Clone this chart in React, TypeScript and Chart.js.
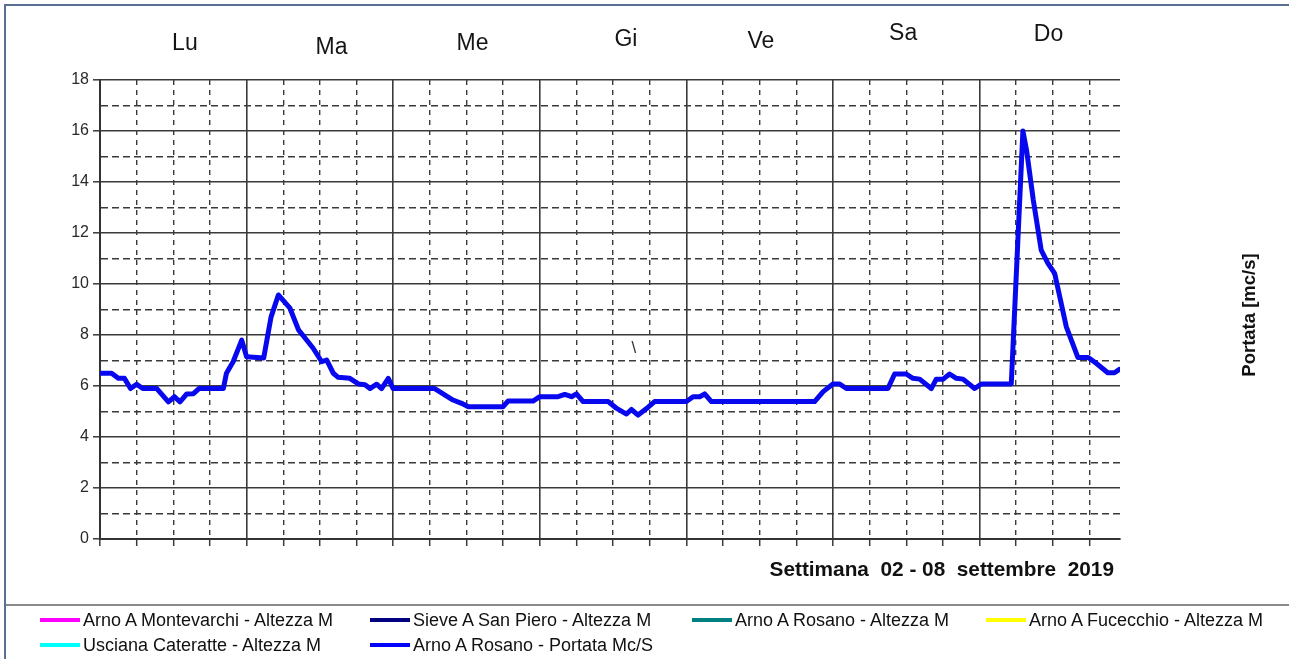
import React, { useEffect, useRef } from 'react';
import { Chart, registerables } from 'chart.js';

Chart.register(...registerables);

// ---- data (hours from Monday 00:00, flow in mc/s) ----
const hours = [
  0, 1.9, 3, 4, 5, 6, 7, 9.3, 11.2, 12.2, 13.1, 14.2, 15.3, 16.2, 20.2, 20.7, 21.8, 23.2, 24, 26.8,
  28.0, 29.2, 31.1, 32.5, 33.5, 34.9, 36.3, 37.1, 38.2, 39, 40.9, 42.3, 43.4, 44.2, 45.3, 46.1, 47.2, 48,
  54.8, 57.8, 59.2, 60.3, 66, 66.8, 70.9, 72, 75, 76.1, 77.2, 78, 79.1, 83.2, 84.6, 86.2, 87, 88.1,
  89.7, 90.8, 96, 97.1, 98.2, 99, 100.1, 117, 118.4, 120, 121.1, 122.2, 129, 130.1, 132, 133.1, 134.2,
  136.1, 136.9, 138, 139.1, 140.2, 141.3, 143.2, 144.3, 149.2, 151.1, 151.7, 152.8, 154.1, 155.2, 156.3,
  158.2, 160.1, 161.8, 163.1, 165, 166.1, 166.9,
];
const flow = [
  6.5, 6.5, 6.3, 6.3, 5.9, 6.07, 5.9, 5.9, 5.38, 5.58, 5.38, 5.69, 5.7, 5.9, 5.9, 6.5, 6.95, 7.8, 7.15, 7.1,
  8.7, 9.57, 9.05, 8.2, 7.9, 7.48, 6.95, 7.02, 6.5, 6.34, 6.3, 6.08, 6.05, 5.9, 6.07, 5.9, 6.3, 5.9,
  5.9, 5.45, 5.32, 5.19, 5.19, 5.41, 5.41, 5.58, 5.58, 5.67, 5.58, 5.69, 5.39, 5.39, 5.12, 4.9, 5.08, 4.86,
  5.16, 5.39, 5.39, 5.58, 5.58, 5.69, 5.39, 5.39, 5.78, 6.08, 6.08, 5.9, 5.9, 6.47, 6.47, 6.3, 6.27,
  5.9, 6.26, 6.26, 6.47, 6.3, 6.27, 5.9, 6.08, 6.08, 16.0, 15.25, 13.3, 11.33, 10.81, 10.42,
  8.33, 7.12, 7.12, 6.89, 6.52, 6.52, 6.65,
];

const yMin = 0;
const yMax = 18;
const xMin = 0;
const xMax = 167;
const hourStep = 6;
const hoursPerDay = 24;

const dayLabels = ['Lu', 'Ma', 'Me', 'Gi', 'Ve', 'Sa', 'Do'];
const dayLabelHours = [13.9, 37.9, 61.0, 86.1, 108.2, 131.5, 155.3];

const caption = 'Settimana  02 - 08  settembre  2019';
const yTitle = 'Portata [mc/s]';

const seriesNames = [
  'Arno A Montevarchi - Altezza M',
  'Sieve A San Piero - Altezza M',
  'Arno A Rosano - Altezza M',
  'Arno A Fucecchio - Altezza M',
  'Usciana Cateratte - Altezza M',
  'Arno A Rosano - Portata Mc/S',
];
const seriesColors = ['#ff00ff', '#000080', '#008080', '#ffff00', '#00ffff', '#0000ff'];

// ---- layout (pixels) ----
const W = 1289;
const H = 659;
const PLOT_LEFT = 100;
const PLOT_RIGHT = 1120;
const PLOT_TOP = 80;
const PLOT_BOTTOM = 539;
const X_AXIS_H = 10;
const dayLabelY = [44, 48, 44, 40, 42, 34, 35];
const legendColX = [40, 370, 692, 986];
const legendRowY = [620, 645];

const FONT = '"Liberation Sans", Arial, sans-serif';
const GRID = '#3a3a3a';

const textPlugin = {
  id: 'texts',
  afterDraw(chart: any) {
    const { ctx, scales, chartArea } = chart;
    const x = scales.x;
    ctx.save();
    ctx.fillStyle = '#151515';
    ctx.textAlign = 'center';
    ctx.textBaseline = 'middle';
    ctx.font = `23px ${FONT}`;
    dayLabels.forEach((d, i) => {
      ctx.fillText(d, x.getPixelForValue(dayLabelHours[i]), dayLabelY[i]);
    });
    // stray mark
    ctx.font = `17px ${FONT}`;
    ctx.fillStyle = '#333';
    ctx.fillText('\\', x.getPixelForValue(87.4), 348);

    ctx.fillStyle = '#111';
    ctx.font = `bold 20.8px ${FONT}`;
    ctx.textAlign = 'right';
    ctx.fillText(caption, chartArea.right - 6, chartArea.bottom + 31);

    ctx.translate(1250, 315);
    ctx.rotate(-Math.PI / 2);
    ctx.textAlign = 'center';
    ctx.font = `bold 18.5px ${FONT}`;
    ctx.fillText(yTitle, 0, 0);
    ctx.restore();
  },
};

export default function App() {
  const ref = useRef<HTMLCanvasElement | null>(null);

  useEffect(() => {
    document.body.style.margin = '0';
    if (!ref.current) return;
    const chart = new Chart(ref.current, {
      type: 'line',
      data: {
        datasets: [
          {
            label: seriesNames[5],
            data: hours.map((h, i) => ({ x: h, y: flow[i] })),
            borderColor: '#0808ee',
            borderWidth: 5,
            pointRadius: 0,
            tension: 0,
            borderJoinStyle: 'round',
            borderCapStyle: 'round',
            fill: false,
          },
        ],
      },
      options: {
        animation: false,
        responsive: false,
        maintainAspectRatio: false,
        layout: {
          padding: {
            left: 0,
            right: W - PLOT_RIGHT,
            top: PLOT_TOP,
            bottom: H - PLOT_BOTTOM - X_AXIS_H,
          },
        },
        plugins: {
          legend: { display: false },
          tooltip: { enabled: false },
        },
        scales: {
          x: {
            type: 'linear',
            min: xMin,
            max: xMax,
            afterFit: (s: any) => {
              s.height = X_AXIS_H;
            },
            ticks: {
              stepSize: hourStep,
              includeBounds: false,
              autoSkip: false,
              maxRotation: 0,
              callback: () => '',
            },
            grid: {
              color: GRID,
              lineWidth: (c: any) => (c.tick && c.tick.value % hoursPerDay === 0 ? 1.6 : 1.4),
              tickLength: 7,
              tickColor: GRID,
              tickWidth: 1.5,
            },
            border: {
              display: true,
              color: '#333',
              width: 2,
              dash: (c: any) => (c.tick && c.tick.value % hoursPerDay !== 0 ? [5, 5] : []),
            },
          },
          y: {
            min: yMin,
            max: yMax,
            afterFit: (s: any) => {
              s.width = PLOT_LEFT;
            },
            ticks: {
              stepSize: 1,
              autoSkip: false,
              padding: 4,
              color: '#2a2a2a',
              font: { family: FONT, size: 16 },
              callback: (v: any) => (Number(v) % 2 === 0 ? String(v) : ''),
            },
            grid: {
              color: GRID,
              lineWidth: (c: any) => (c.tick && c.tick.value % 2 === 0 ? 1.6 : 1.4),
              tickLength: 7,
              tickColor: (c: any) => (c.tick && c.tick.value % 2 === 0 ? GRID : 'rgba(0,0,0,0)'),
              tickWidth: 1.5,
            },
            border: {
              display: true,
              color: '#333',
              width: 2,
              dash: (c: any) => (c.tick && c.tick.value % 2 !== 0 ? [7, 4] : []),
            },
          },
        },
      },
      plugins: [textPlugin],
    } as any);
    return () => chart.destroy();
  }, []);

  return (
    <div
      style={{
        position: 'absolute',
        left: 0,
        top: 0,
        width: W,
        height: H,
        overflow: 'hidden',
        background: '#fff',
        fontFamily: FONT,
      }}
    >
      <canvas ref={ref} width={W} height={H} style={{ position: 'absolute', left: 0, top: 0 }} />
      <div
        style={{
          position: 'absolute',
          left: 4,
          top: 4,
          width: W,
          height: H,
          borderLeft: '2px solid #5a6f94',
          borderTop: '2px solid #5a6f94',
          pointerEvents: 'none',
        }}
      />
      <div
        style={{
          position: 'absolute',
          left: 6,
          top: 604,
          width: W,
          height: 2,
          background: '#8a8a8a',
        }}
      />
      {seriesNames.map((name, i) => {
        const col = i < 4 ? i : i - 4;
        const row = i < 4 ? 0 : 1;
        return (
          <div
            key={name}
            style={{
              position: 'absolute',
              left: legendColX[col],
              top: legendRowY[row] - 12,
              height: 24,
              display: 'flex',
              alignItems: 'center',
              whiteSpace: 'nowrap',
              fontSize: 18,
              color: '#111',
            }}
          >
            <span
              style={{
                display: 'inline-block',
                width: 40,
                height: 4,
                background: seriesColors[i],
                marginRight: 3,
              }}
            />
            <span>{name}</span>
          </div>
        );
      })}
    </div>
  );
}
